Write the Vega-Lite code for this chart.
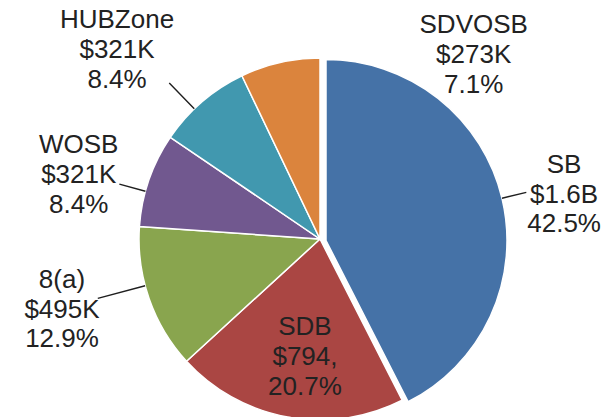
{
  "$schema": "https://vega.github.io/schema/vega-lite/v6.json",
  "width": 588,
  "height": 356,
  "autosize": {"type": "none"},
  "padding": {"left": 26, "top": 61, "right": 0, "bottom": 0},
  "background": "white",
  "view": {"stroke": null},
  "config": {"text": {"font": "Liberation Sans", "fontSize": 26, "fill": "#222222"}},
  "data": {
    "values": [
      {"name": "SB", "amount": "$1.6B", "share": 0.425, "rank": 1},
      {"name": "SDB", "amount": "$794,", "share": 0.207, "rank": 2},
      {"name": "8(a)", "amount": "$495K", "share": 0.129, "rank": 3},
      {"name": "WOSB", "amount": "$321K", "share": 0.084, "rank": 4},
      {"name": "HUBZone", "amount": "$321K", "share": 0.084, "rank": 5},
      {"name": "SDVOSB", "amount": "$273K", "share": 0.071, "rank": 6}
    ]
  },
  "encoding": {
    "theta": {"field": "share", "type": "quantitative", "stack": true},
    "order": {"field": "rank", "type": "quantitative"}
  },
  "layer": [
    {
      "mark": {"type": "arc", "outerRadius": 181, "stroke": "white", "strokeWidth": 1.5},
      "encoding": {
        "color": {
          "field": "name", "type": "nominal", "legend": null,
          "scale": {
            "domain": ["SB", "SDB", "8(a)", "WOSB", "HUBZone", "SDVOSB"],
            "range": ["#4572A7", "#AA4643", "#89A54E", "#71588F", "#4198AF", "#DB843D"]
          }
        },
        "opacity": {"condition": {"test": "datum.name === 'SB'", "value": 0}, "value": 1}
      }
    },
    {
      "mark": {"type": "arc", "outerRadius": 181, "stroke": "white", "strokeWidth": 1.5, "xOffset": 6, "yOffset": 1.5},
      "encoding": {
        "color": {"field": "name", "type": "nominal", "legend": null},
        "opacity": {"condition": {"test": "datum.name === 'SB'", "value": 1}, "value": 0}
      }
    },
    {
      "mark": {
        "type": "arc", "filled": false, "stroke": "#1f1f1f", "strokeWidth": 1.4,
        "innerRadius": 181,
        "outerRadius": {"expr": "datum.name === 'HUBZone' ? 217 : datum.name === '8(a)' ? 230 : datum.name === 'SB' ? 206 : 208"},
        "thetaOffset": {"expr": "datum.name === 'HUBZone' ? -0.058 : datum.name === '8(a)' ? 0.075 : datum.name === 'WOSB' ? -0.066 : 0"},
        "padAngle": 3,
        "xOffset": {"expr": "datum.name === 'SB' ? 6 : 0"},
        "yOffset": {"expr": "datum.name === 'SB' ? 1.5 : 0"}
      },
      "encoding": {
        "opacity": {"condition": {"test": "datum.name === 'SDB' || datum.name === 'SDVOSB'", "value": 0}, "value": 1}
      }
    },
    {
      "mark": {
        "type": "text", "align": "center", "baseline": "alphabetic",
        "radius": {"expr": "datum.name === 'SDB' ? 118 : 250"},
        "dx": {"expr": "datum.name === 'SB' ? 1 : datum.name === 'SDB' ? 6 : datum.name === '8(a)' ? -22 : datum.name === 'WOSB' ? -5 : datum.name === 'HUBZone' ? -40 : 209"},
        "dy": {"expr": "(datum.name === 'SB' ? 22 : datum.name === 'SDB' ? 10 : datum.name === '8(a)' ? -3.5 : datum.name === 'WOSB' ? 26 : datum.name === 'HUBZone' ? 9 : 68) - 30"}
      },
      "encoding": {"text": {"field": "name", "type": "nominal"}}
    },
    {
      "mark": {
        "type": "text", "align": "center", "baseline": "alphabetic",
        "radius": {"expr": "datum.name === 'SDB' ? 118 : 250"},
        "dx": {"expr": "datum.name === 'SB' ? 1 : datum.name === 'SDB' ? 6 : datum.name === '8(a)' ? -22 : datum.name === 'WOSB' ? -5 : datum.name === 'HUBZone' ? -40 : 209"},
        "dy": {"expr": "datum.name === 'SB' ? 22 : datum.name === 'SDB' ? 10 : datum.name === '8(a)' ? -3.5 : datum.name === 'WOSB' ? 26 : datum.name === 'HUBZone' ? 9 : 68"}
      },
      "encoding": {"text": {"field": "amount", "type": "nominal"}}
    },
    {
      "mark": {
        "type": "text", "align": "center", "baseline": "alphabetic",
        "radius": {"expr": "datum.name === 'SDB' ? 118 : 250"},
        "dx": {"expr": "datum.name === 'SB' ? 1 : datum.name === 'SDB' ? 6 : datum.name === '8(a)' ? -22 : datum.name === 'WOSB' ? -5 : datum.name === 'HUBZone' ? -40 : 209"},
        "dy": {"expr": "(datum.name === 'SB' ? 22 : datum.name === 'SDB' ? 10 : datum.name === '8(a)' ? -3.5 : datum.name === 'WOSB' ? 26 : datum.name === 'HUBZone' ? 9 : 68) + 29.5"}
      },
      "encoding": {"text": {"field": "share", "type": "quantitative", "format": ".1%"}}
    }
  ]
}
